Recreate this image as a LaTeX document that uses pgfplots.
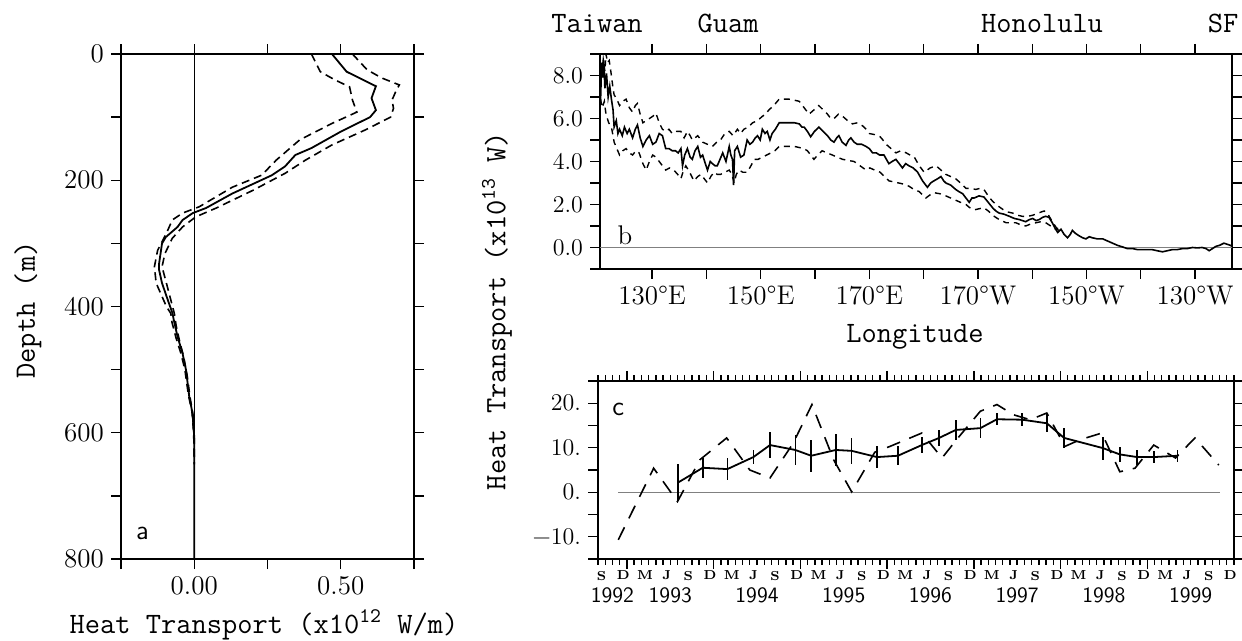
\documentclass[border=0pt]{standalone}
\usepackage{pgfplots}
\pgfplotsset{compat=1.18}
\newcommand\tickfont{\fontsize{13.5}{15}\selectfont}
\newcommand\smtickfont{\fontsize{12}{14}\selectfont}
\newcommand\labfont{\fontsize{14.8}{16}\selectfont\ttfamily}
\newcommand\yrfont{\fontsize{11}{12}\selectfont\sffamily}
\pgfplotsset{
  every axis/.append style={
    scale only axis, anchor=south west,
    axis line style={line width=0.9pt},
    tick style={line width=0.7pt, black},
    tick align=outside, major tick length=5pt,
    tick label style={font=\tickfont},
  },
  solidline/.style={black, line width=0.9pt, no markers},
  dashline/.style={black, line width=0.8pt, no markers, dash pattern=on 4pt off 2.5pt},
}
\begin{document}
\begin{tikzpicture}
\path[use as bounding box] (0,0) rectangle (621pt,320.5pt);
% ---------------- panel a
\begin{axis}[at={(60.5pt,41pt)}, width=146.5pt, height=252.5pt,
  xmin=-0.25, xmax=0.75, ymin=0, ymax=800, y dir=reverse,
  xtick={-0.25,0,0.25,0.5,0.75}, xticklabels={,0.00,,0.50,},
  ytick={0,100,...,800}, yticklabels={0,,200,,400,,600,,800}]
\addplot[black, line width=0.5pt] coordinates {(0,0) (0,800)};
\addplot[solidline] coordinates {(0.47,0)(0.52,28)(0.62,51)(0.605,70)(0.62,89)(0.60,100)(0.50,123)(0.40,149)(0.345,160)(0.31,178)(0.265,192)(0.13,221)(0.04,244)(-0.005,252)(-0.04,263)(-0.057,274)(-0.097,290)(-0.11,300)(-0.12,332)(-0.12,342)(-0.11,363)(-0.09,390)(-0.074,411)(-0.07,421)(-0.057,448)(-0.04,474)(-0.028,501)(-0.017,543)(-0.006,569)(0,607)(0,800)};
\addplot[dashline] coordinates {(0.54,0)(0.59,25)(0.64,38)(0.70,49)(0.69,57)(0.675,73)(0.68,86)(0.67,100)(0.585,120)(0.47,144)(0.38,168)(0.31,189)(0.20,216)(0.075,244)(0.005,258)(-0.04,274)(-0.075,292)(-0.10,316)(-0.11,337)(-0.095,363)(-0.068,411)(-0.062,430)(-0.05,455)(-0.036,480)(-0.024,510)(-0.014,545)(-0.004,572)(0,610)(0,650)};
\addplot[dashline] coordinates {(0.40,0)(0.43,28)(0.48,41)(0.53,52)(0.54,73)(0.555,92)(0.47,110)(0.36,136)(0.28,168)(0.23,192)(0.13,211)(0.017,242)(-0.04,252)(-0.075,263)(-0.095,284)(-0.125,311)(-0.136,337)(-0.13,363)(-0.095,400)(-0.08,411)(-0.076,425)(-0.062,450)(-0.045,475)(-0.032,500)(-0.02,540)(-0.008,566)(-0.002,600)(0,640)};
\node[font=\sffamily\tickfont] at (axis cs:-0.177,759) {a};
\end{axis}
\node[font=\labfont, rotate=90] at (14pt,165.5pt) {Depth (m)};
\node[font=\labfont] at (132pt,8pt) {Heat Transport (x10\textsuperscript{12} W/m)};
% ---------------- panel b
\begin{axis}[at={(300pt,186pt)}, width=316pt, height=107.5pt,
  xmin=120.4, xmax=236.8, ymin=-1, ymax=9,
  xtick={130,140,...,230}, xticklabels={130°E,,150°E,,170°E,,170°W,,150°W,,130°W},
  ytick={-1,0,...,9}, yticklabels={,0.0,,2.0,,4.0,,6.0,,8.0,},
  yticklabel style={font=\smtickfont}]
\addplot[gray, line width=0.5pt] coordinates {(120.4,0) (236.8,0)};
\addplot[solidline, line width=0.8pt] coordinates {(120.5,6.8)(120.7,8.6)(120.9,7.9)(121.1,8.7)(121.3,7.4)(121.6,8.1)(121.9,7.0)(122.2,7.5)(122.5,6.9)(122.8,6.4)(123.0,5.6)(123.4,5.9)(123.7,5.3)(124.0,5.5)(124.5,5.2)(124.9,5.6)(125.4,5.3)(125.8,5.5)(126.4,5.1)(126.9,5.5)(127.3,5.7)(127.8,5.1)(128.3,4.7)(128.9,5.0)(129.5,5.2)(130.1,4.8)(130.7,4.9)(131.3,5.3)(131.9,5.2)(132.5,4.6)(133.1,4.6)(133.7,4.5)(134.3,4.5)(134.8,4.4)(135.3,4.6)(135.6,3.8)(136.0,4.3)(136.5,4.6)(137.0,4.2)(137.4,4.1)(137.9,4.5)(138.4,4.7)(138.9,4.2)(139.3,4.3)(139.8,3.9)(140.2,3.6)(140.7,4.0)(141.1,3.9)(141.6,3.8)(142.0,3.8)(142.5,4.1)(143.0,4.4)(143.6,4.0)(144.2,4.7)(144.5,4.3)(144.8,4.1)(145.0,2.9)(145.2,4.5)(145.7,4.7)(146.3,4.2)(146.9,4.3)(147.5,5.0)(148.0,4.8)(148.5,4.9)(149.0,5.1)(149.4,5.2)(149.9,5.0)(150.3,5.5)(150.8,5.3)(151.2,5.4)(151.7,5.0)(152.1,5.3)(152.7,5.5)(153.4,5.8)(154.3,5.8)(155.2,5.8)(156.2,5.8)(157.1,5.75)(157.6,5.6)(158.0,5.6)(158.6,5.4)(159.2,5.15)(159.9,5.4)(160.7,5.6)(161.5,5.4)(162.3,5.2)(162.9,5.0)(163.5,4.9)(164.0,5.1)(164.4,5.2)(165.0,4.9)(165.7,4.75)(166.2,5.0)(166.6,5.1)(167.2,4.9)(167.8,4.8)(168.6,4.8)(169.4,4.7)(170.0,4.6)(170.6,4.4)(171.3,4.4)(171.9,4.3)(172.7,4.3)(173.6,3.9)(174.2,4.0)(174.9,4.1)(175.5,3.9)(176.1,3.7)(176.7,3.9)(177.3,3.8)(178.1,3.7)(178.9,3.5)(179.8,3.1)(180.7,2.8)(181.3,3.0)(181.9,3.1)(182.6,3.2)(183.2,3.3)(183.7,3.1)(184.1,3.0)(185.0,2.9)(185.9,2.7)(186.5,2.6)(187.2,2.5)(187.8,2.3)(188.4,2.1)(188.9,2.3)(189.3,2.3)(190.2,2.4)(191.1,2.35)(191.9,2.1)(192.7,1.85)(193.3,1.7)(193.9,1.6)(194.8,1.55)(195.8,1.45)(196.7,1.35)(197.6,1.3)(198.2,1.25)(198.8,1.2)(199.5,1.3)(200.1,1.35)(200.7,1.25)(201.3,1.3)(201.9,1.4)(202.5,1.45)(203.1,1.4)(203.7,1.15)(204.2,0.9)(204.7,0.7)(205.3,0.85)(205.9,0.6)(206.5,0.45)(207.0,0.6)(207.4,0.8)(208.0,0.65)(208.6,0.55)(209.3,0.45)(209.9,0.4)(210.5,0.5)(211.1,0.45)(212.0,0.4)(213.0,0.4)(213.9,0.3)(214.8,0.2)(215.7,0.1)(216.6,0.03)(217.5,-0.05)(218.5,-0.05)(219.4,-0.1)(220.3,-0.1)(221.2,-0.1)(222.1,-0.1)(223.0,-0.15)(224.0,-0.2)(224.9,-0.15)(225.8,-0.1)(226.7,-0.1)(227.7,-0.05)(228.6,-0.05)(229.5,0)(230.4,-0.02)(231.3,0)(232.0,-0.05)(232.6,-0.15)(233.2,-0.05)(233.8,0.05)(234.5,0.1)(235.3,0.2)(235.9,0.15)(236.5,0.1)(236.8,0.05)};
\addplot[dashline, line width=0.7pt, dash pattern=on 3pt off 2.5pt] coordinates {(120.7,8.0)(121.0,8.75)(121.3,8.2)(121.5,9.0)(121.8,8.6)(122.1,8.7)(122.5,8.0)(122.8,7.4)(123.0,7.1)(123.5,6.9)(124.0,6.6)(124.6,6.8)(125.2,6.9)(125.8,6.5)(126.4,6.3)(126.9,6.6)(127.3,6.7)(127.8,6.2)(128.3,5.8)(128.9,5.9)(129.5,6.0)(130.1,6.1)(130.7,6.25)(131.3,5.8)(131.9,5.5)(132.5,5.4)(133.1,5.5)(133.7,5.3)(134.5,5.4)(135.3,5.4)(135.9,5.1)(136.5,5.4)(137.0,5.2)(137.4,5.0)(138.4,5.2)(139.3,4.9)(140.2,4.8)(141.1,4.7)(141.9,4.9)(142.6,5.0)(143.4,5.3)(144.2,5.4)(144.9,5.2)(145.7,5.5)(146.3,5.3)(146.9,5.5)(147.7,5.6)(148.5,5.8)(149.4,5.9)(150.3,6.1)(150.9,6.2)(151.5,6.4)(152.4,6.6)(153.4,6.9)(154.3,6.9)(155.2,6.9)(156.2,6.85)(157.1,6.8)(158.0,6.5)(158.9,6.2)(159.8,6.4)(160.7,6.6)(161.5,6.4)(162.3,6.2)(162.9,6.0)(163.5,6.0)(164.3,6.2)(165.1,6.1)(166.0,5.9)(166.9,5.75)(167.8,5.8)(168.8,5.65)(169.4,5.5)(170.0,5.3)(171.0,5.25)(172.0,5.15)(172.5,5.0)(173.1,4.8)(174.0,4.6)(174.9,4.4)(175.8,4.5)(176.8,4.4)(177.5,4.3)(178.3,4.2)(179.2,3.8)(180.1,3.5)(181.2,3.7)(182.3,3.8)(183.2,3.6)(184.1,3.4)(185.0,3.3)(185.9,3.2)(186.8,3.0)(187.8,2.75)(188.7,2.75)(189.6,2.7)(190.4,2.75)(191.1,2.7)(191.9,2.4)(192.7,2.15)(193.6,1.95)(194.6,1.77)(195.5,1.65)(196.4,1.6)(197.3,1.5)(198.2,1.45)(199.2,1.45)(200.1,1.5)(201.1,1.6)(202.2,1.7)(202.9,1.55)(203.7,1.2)(204.5,0.9)(205.2,0.85)};
\addplot[dashline, line width=0.7pt, dash pattern=on 3pt off 2.5pt] coordinates {(120.5,6.9)(120.8,6.5)(121.2,6.8)(121.5,6.2)(122.0,5.8)(122.5,5.6)(122.8,5.2)(123.0,4.9)(123.5,4.6)(124.0,4.3)(124.6,4.5)(125.2,4.6)(125.8,4.4)(126.4,4.3)(127.0,4.5)(127.6,4.4)(128.3,3.9)(128.9,3.6)(129.5,4.0)(130.1,4.3)(130.7,4.2)(131.3,4.0)(131.9,3.8)(132.5,3.6)(133.2,3.7)(134.0,3.6)(134.7,3.4)(135.3,3.2)(135.8,3.6)(136.2,3.8)(136.9,3.5)(137.7,3.1)(138.4,3.3)(139.0,3.4)(139.6,3.2)(140.2,3.0)(140.8,3.3)(141.4,3.5)(142.0,3.4)(142.6,3.4)(143.4,3.5)(144.2,3.6)(144.7,3.4)(145.1,3.0)(145.5,3.4)(146.0,3.6)(146.7,3.5)(147.5,3.5)(148.2,3.8)(148.8,4.1)(149.5,4.1)(150.3,4.2)(151.1,4.3)(151.9,4.4)(152.6,4.5)(153.4,4.7)(154.3,4.7)(155.2,4.7)(156.2,4.7)(157.1,4.65)(157.9,4.6)(158.6,4.5)(159.2,4.3)(159.8,4.1)(160.5,4.3)(161.3,4.5)(162.2,4.4)(163.2,4.3)(164.1,4.2)(165.1,4.1)(166.1,4.05)(167.2,4.0)(168.3,3.8)(169.4,3.6)(170.1,3.7)(171.0,3.6)(172.0,3.5)(172.8,3.3)(173.6,3.1)(174.5,3.05)(175.4,3.0)(176.3,2.95)(177.3,2.85)(178.2,2.7)(179.2,2.6)(180.4,2.3)(181.2,2.45)(181.9,2.55)(183.0,2.5)(184.1,2.4)(185.0,2.3)(185.9,2.2)(186.8,2.1)(187.8,2.0)(188.5,1.85)(189.3,1.75)(190.2,1.8)(191.1,1.85)(191.9,1.7)(192.7,1.5)(193.9,1.3)(195.2,1.15)(196.1,1.15)(197.0,1.15)(197.9,1.05)(198.8,1.0)(199.8,1.1)(200.7,1.15)(201.6,1.2)(202.5,1.15)(203.4,1.0)(204.3,0.85)(205.0,0.8)};
\node[font=\tickfont] at (axis cs:125,0.55) {b};
\end{axis}
\node[font=\labfont, anchor=base] at (298.5pt,304pt) {Taiwan};
\node[font=\labfont, anchor=base] at (364pt,304pt) {Guam};
\node[font=\labfont, anchor=base] at (521pt,304pt) {Honolulu};
\node[font=\labfont, anchor=base] at (611.5pt,304pt) {SF};
\node[font=\labfont, anchor=base] at (457.5pt,149pt) {Longitude};
\node[font=\labfont, rotate=90] at (248.5pt,165pt) {Heat Transport (x10\textsuperscript{13} W)};
% ---------------- panel c
\begin{axis}[at={(299pt,41pt)}, width=318pt, height=89pt, clip=false,
  xmin=8, xmax=96, ymin=-15, ymax=25,
  xtick={12,24,...,84}, xticklabels={},
  minor xtick={8,9,...,96}, minor tick length=2.8pt,
  ytick={-15,-10,...,25}, yticklabels={,−10.,,0.,,10.,,20.,},
  yticklabel style={font=\smtickfont},
  extra x ticks={8.5,11.5,...,95.5},
  extra x tick labels={S,D,M,J,S,D,M,J,S,D,M,J,S,D,M,J,S,D,M,J,S,D,M,J,S,D,M,J,S,D},
  extra x tick style={major tick length=0pt, tick label style={font=\fontsize{6.5}{7}\selectfont\bfseries, yshift=-2.5pt}}]
\addplot[gray, line width=0.5pt] coordinates {(10.8,0) (94,0)};
\addplot[dashline, dash pattern=on 7pt off 5pt] coordinates {(10.8,-10.7)(15.7,5.4)(19.0,-2.1)(22.1,7.3)(25.8,12.2)(29.0,5.0)(31.8,3.2)(35.0,11.0)(37.6,19.7)(40.6,7.3)(43.1,0.1)(46.3,9.0)(48.4,10.3)(52.8,13.3)(55.6,7.7)(57.6,11.8)(60.9,18.2)(63.2,19.7)(65.5,17.4)(67.8,16.3)(70.1,17.8)(72.6,10.3)(74.7,11.8)(77.7,13.3)(80.2,4.6)(82.3,5.4)(84.9,10.6)(87.9,7.7)(90.6,12.2)(93.9,6.1)};
\addplot[solidline, error bars/.cd, y dir=both, y explicit, error mark=none, error bar style={line width=0.8pt}] table[x=x, y=y, y error=e] {
x y e
19.1 2.2 4.2
22.5 5.5 2.3
25.9 5.2 2.4
29.5 7.9 1.5
31.8 10.6 3.0
35.3 9.5 3.4
37.5 8.2 3.6
40.9 9.5 3.6
43.1 9.3 3.0
46.6 7.9 2.4
49.5 8.2 2.1
52.8 10.6 1.8
55.2 12.2 1.7
57.5 14.0 2.3
60.9 14.4 2.3
63.2 16.4 1.3
66.7 16.3 1.5
70.1 15.5 2.0
72.5 12.2 2.3
77.9 9.9 2.6
80.2 8.5 1.7
82.6 7.9 1.7
84.9 7.9 1.3
88.2 8.2 1.3
};
\node[font=\sffamily\tickfont] at (axis cs:10.8,18.5) {c};
\node[font=\yrfont, yshift=-18pt] at (axis cs:10,-15) {1992};
\node[font=\yrfont, yshift=-18pt] at (axis cs:18,-15) {1993};
\node[font=\yrfont, yshift=-18pt] at (axis cs:30,-15) {1994};
\node[font=\yrfont, yshift=-18pt] at (axis cs:42,-15) {1995};
\node[font=\yrfont, yshift=-18pt] at (axis cs:54,-15) {1996};
\node[font=\yrfont, yshift=-18pt] at (axis cs:66,-15) {1997};
\node[font=\yrfont, yshift=-18pt] at (axis cs:78,-15) {1998};
\node[font=\yrfont, yshift=-18pt] at (axis cs:90,-15) {1999};
\end{axis}
\end{tikzpicture}
\end{document}
